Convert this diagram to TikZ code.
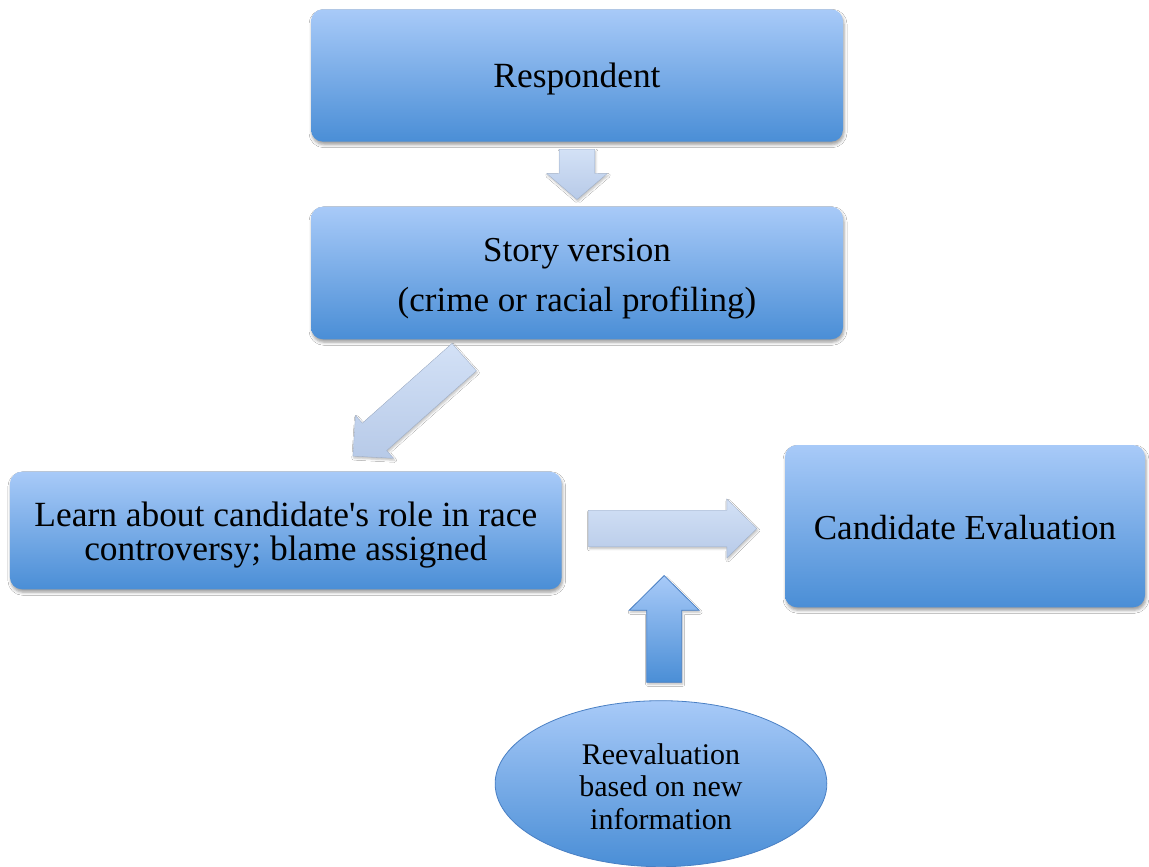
\documentclass[tikz,border=0pt]{standalone}
\usepackage{fontspec}
\setmainfont{Liberation Serif}[Ligatures=TeXOff]
\usetikzlibrary{calc,shapes.geometric,shadows.blur}
\definecolor{btop}{HTML}{A8CAF8}
\definecolor{bbot}{HTML}{4A8ED6}
\definecolor{atop}{HTML}{D3E1F6}
\definecolor{abot}{HTML}{B7CAE8}
\definecolor{ellline}{HTML}{4A80C4}
\tikzset{
  box/.style={rounded corners=12pt, top color=btop, bottom color=bbot, draw=none,
    align=center, inner sep=0pt, font=\fontsize{35.4}{34}\selectfont,
    blur shadow={shadow xshift=1pt, shadow yshift=-3pt, shadow blur radius=3pt, shadow opacity=38}},
  lightarrow/.style={top color=atop, bottom color=abot, draw=abot!85!black, line width=0.3pt,
    blur shadow={shadow xshift=1pt, shadow yshift=-2pt, shadow blur radius=2pt, shadow opacity=25}},
  darkarrow/.style={top color=btop, bottom color=bbot, draw=ellline, line width=0.8pt,
    blur shadow={shadow xshift=1pt, shadow yshift=-2pt, shadow blur radius=2pt, shadow opacity=25}},
  oval/.style={ellipse, top color=btop, bottom color=bbot, draw=ellline, line width=0.8pt,
    inner sep=0pt, align=center, font=\fontsize{30}{32.7}\selectfont}
}
% lower a line of text visually without changing its box
\newcommand\lowr[2]{\raisebox{-#1}[\height][\depth]{#2}}
\newcommand\barrow[7]{\path[#1] ([shift={#2},rotate=#3]0,-#5) -- ([shift={#2},rotate=#3]#4-#7,-#5) -- ([shift={#2},rotate=#3]#4-#7,-#6) -- ([shift={#2},rotate=#3]#4,0) -- ([shift={#2},rotate=#3]#4-#7,#6) -- ([shift={#2},rotate=#3]#4-#7,#5) -- ([shift={#2},rotate=#3]0,#5) -- cycle;}
\begin{document}
\begin{tikzpicture}[x=1pt,y=1pt]
\useasboundingbox[fill=white] (0,0) rectangle (1149,867);
\node[box, minimum width=532pt, minimum height=132.4pt] (resp) at (577,791.5) {\lowr{3.5pt}{Respondent}};
\node[box, minimum width=532pt, minimum height=132.6pt, font=\fontsize{35}{50}\selectfont] (story) at (577,594)
  {\lowr{6pt}{Story version}\\\lowr{6pt}{(crime or racial profiling)}};
\node[box, minimum width=551.7pt, minimum height=117.6pt] (learn) at (285.8,336.5)
  {\lowr{4.5pt}{Learn about candidate's role in race}\\\lowr{4.5pt}{controversy; blame assigned}};
\node[box, minimum width=360pt, minimum height=162.3pt, font=\fontsize{35}{34}\selectfont] (cand) at (965,340.8) {\lowr{1pt}{Candidate Evaluation}};
\node[oval, minimum width=331.7pt, minimum height=166pt] (reeval) at (661,83.3)
  {\lowr{3pt}{Reevaluation}\\\lowr{3pt}{based on new}\\\lowr{3pt}{information}};
\coordinate (a1) at ($(resp.south)+(0,-7.3)$);
\coordinate (a2) at ($(story.south)+(-112.8,-17.6)$);
\coordinate (a3) at ($(learn.east)+(26.6,2)$);
\coordinate (a4) at ($(reeval.north)+(3.2,18)$);
\barrow{lightarrow}{(a1)}{-90}{50.3}{17.8}{30.3}{26}
\barrow{lightarrow}{(a2)}{221.65}{149}{18.3}{28.7}{29}
\barrow{lightarrow}{(a3)}{0}{168.4}{18.3}{29.5}{30}
\barrow{darkarrow}{(a4)}{90}{106.7}{17.5}{35}{34.7}
\end{tikzpicture}
\end{document}
